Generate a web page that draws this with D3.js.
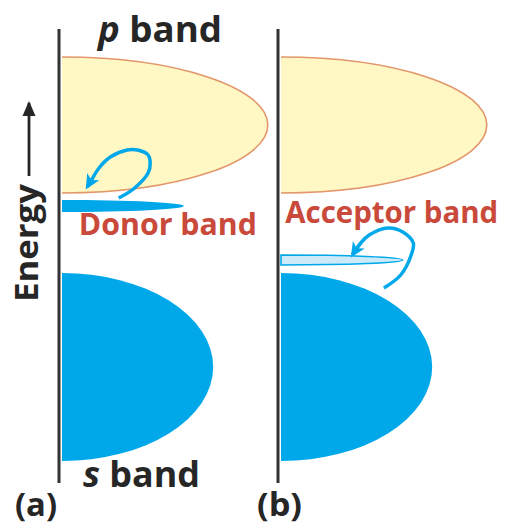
<!DOCTYPE html>
<html>
<head>
<meta charset="utf-8">
<script src="https://cdn.jsdelivr.net/npm/d3@7"></script>
<style>
  body { margin: 0; background: #fff; }
  svg { display: block; }
  text { font-family: "Open Sans", "DejaVu Sans", sans-serif; font-weight: 700; }
</style>
</head>
<body>
<script>
// energy units (arbitrary, bottom of the axis = 0), density in % of panel width
const panelLabels = ["(a)", "(b)"];
const bandNames = ["p band", "s band"];
const bandCentre = [358, 116];
const bandHalfSpread = [68, 94];
const bandDensity = [98, 72];
const impurityNames = ["Donor band", "Acceptor band"];
const impurityCentre = [277, 223];
const impurityHalfSpread = [6, 5];
const impurityDensity = [58, 58];
// electron transitions [density, energy]
const donorArrow = [[27, 285], [34, 294], [41, 310], [42, 320], [41, 328], [36, 333], [31, 333], [23, 326], [18, 316], [14, 303], [12, 296]];
const acceptorArrow = [[49, 195], [57, 208], [62, 228], [63, 240], [58, 251], [51, 255], [42, 248], [38, 240], [34, 228]];

const width = 506, height = 526;
const blue = "#00a8ea", red = "#c9493a", dark = "#262626";

const svg = d3.select("body").append("svg")
  .attr("width", width).attr("height", height);

const defs = svg.append("defs");
defs.append("marker")
  .attr("id", "head")
  .attr("markerUnits", "userSpaceOnUse")
  .attr("viewBox", "0 -8 16 16")
  .attr("markerWidth", 16).attr("markerHeight", 16)
  .attr("refX", 12).attr("refY", 0)
  .attr("orient", "auto")
  .append("path")
  .attr("d", "M0,-7 L15,0 L0,7 L4,0 Z")
  .attr("fill", blue);
defs.append("marker")
  .attr("id", "energyHead")
  .attr("markerUnits", "userSpaceOnUse")
  .attr("viewBox", "0 -8 16 16")
  .attr("markerWidth", 16).attr("markerHeight", 16)
  .attr("refX", 13).attr("refY", 0)
  .attr("orient", "auto")
  .append("path")
  .attr("d", "M0,-6.5 L15,0 L0,6.5 Z")
  .attr("fill", dark);

const y = d3.scaleLinear().domain([0, 454]).range([483, 29]);
const panelOrigin = [62, 281];
const xScales = panelOrigin.map(o => d3.scaleLinear().domain([0, 100]).range([o, o + 210]));

// half ellipse from the axis
function halfBand(x, c, h, d) {
  const x0 = x(0), rx = x(d) - x(0);
  const top = y(c + h), bot = y(c - h), ry = (bot - top) / 2;
  return `M${x0},${top} A${rx},${ry} 0 0 1 ${x0},${bot}`;
}

panelLabels.forEach((lab, p) => {
  const x = xScales[p];
  const g = svg.append("g");

  // p band (yellow, outlined)
  g.append("path")
    .attr("d", halfBand(x, bandCentre[0], bandHalfSpread[0], bandDensity[0]) + " Z")
    .attr("fill", "#fff7c4");
  g.append("path")
    .attr("d", halfBand(x, bandCentre[0], bandHalfSpread[0], bandDensity[0]))
    .attr("fill", "none").attr("stroke", "#e3976a").attr("stroke-width", 1.6);

  // s band (solid blue)
  g.append("path")
    .attr("d", halfBand(x, bandCentre[1], bandHalfSpread[1], bandDensity[1]) + " Z")
    .attr("fill", blue);

  // impurity band
  const imp = halfBand(x, impurityCentre[p], impurityHalfSpread[p], impurityDensity[p]) + " Z";
  if (p === 0) {
    g.append("path").attr("d", imp).attr("fill", blue);
  } else {
    g.append("path").attr("d", imp)
      .attr("fill", "#cdeaf9").attr("stroke", blue).attr("stroke-width", 1.6);
  }

  // axis line
  g.append("line")
    .attr("x1", x(0) - 3).attr("x2", x(0) - 3)
    .attr("y1", y(454)).attr("y2", y(0))
    .attr("stroke", "#333").attr("stroke-width", 3);

  // transition arrow
  const pts = p === 0 ? donorArrow : acceptorArrow;
  const line = d3.line().x(d => x(d[0])).y(d => y(d[1])).curve(d3.curveCatmullRom);
  g.append("path")
    .attr("d", line(pts))
    .attr("fill", "none").attr("stroke", blue).attr("stroke-width", 3.5)
    .attr("marker-end", "url(#head)");

  // impurity label
  g.append("text")
    .attr("x", p === 0 ? x(8) : x(2))
    .attr("y", p === 0 ? 235 : 223)
    .attr("font-size", 30)
    .attr("fill", red)
    .attr("textLength", p === 0 ? 178 : 213)
    .attr("lengthAdjust", "spacingAndGlyphs")
    .text(impurityNames[p]);

  // panel label
  g.append("text")
    .attr("x", p === 0 ? 15 : 257)
    .attr("y", 516)
    .attr("font-size", 32)
    .attr("fill", dark)
    .attr("textLength", p === 0 ? 42 : 45)
    .attr("lengthAdjust", "spacingAndGlyphs")
    .text(lab);
});

// band names
function bandLabel(name, xPos, yPos, w) {
  const parts = name.split(" ");
  const t = svg.append("text")
    .attr("x", xPos).attr("y", yPos)
    .attr("font-size", 36).attr("fill", dark)
    .attr("textLength", w).attr("lengthAdjust", "spacingAndGlyphs");
  t.append("tspan").attr("font-style", "italic").text(parts[0]);
  t.append("tspan").text(" " + parts[1]);
}
bandLabel(bandNames[0], 98, 42, 124);
bandLabel(bandNames[1], 83, 487, 117);

// energy axis title
svg.append("text")
  .attr("transform", "translate(38,302) rotate(-90)")
  .attr("font-size", 33)
  .attr("fill", dark)
  .attr("textLength", 118)
  .attr("lengthAdjust", "spacingAndGlyphs")
  .text("Energy");
svg.append("line")
  .attr("x1", 29).attr("x2", 29)
  .attr("y1", 176).attr("y2", 103)
  .attr("stroke", dark).attr("stroke-width", 2.8)
  .attr("marker-end", "url(#energyHead)");
</script>
</body>
</html>
